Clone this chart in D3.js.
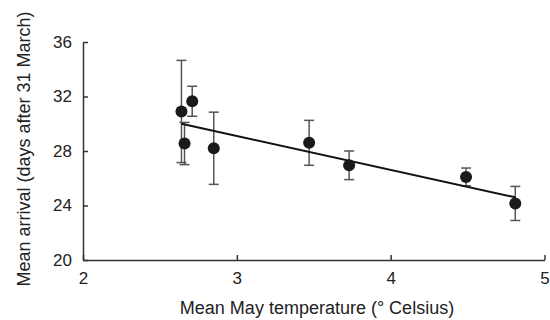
<!DOCTYPE html>
<html>
<head>
<meta charset="utf-8">
<script src="https://cdn.jsdelivr.net/npm/d3@7"></script>
<style>
  body { margin: 0; background: #fff; }
  text { font-family: "Liberation Sans", Arial, sans-serif; fill: #222; }
</style>
</head>
<body>
<div id="chart"></div>
<script>
// data
const temps = [2.64, 2.66, 2.71, 2.85, 3.47, 3.73, 4.49, 4.81];
const arrivals = [30.9, 28.55, 31.65, 28.2, 28.6, 26.95, 26.1, 24.15];
const errors = [3.75, 1.55, 1.1, 2.65, 1.65, 1.05, 0.65, 1.25];
const fitX = [2.64, 4.81];
const fitY = [30.0, 24.6];
const xTicks = [2, 3, 4, 5];
const yTicks = [20, 24, 28, 32, 36];

const width = 550, height = 320;
const margin = {top: 42, right: 5, bottom: 60, left: 83};
const w = width - margin.left - margin.right,
    h = height - margin.top - margin.bottom;

const svg = d3.select('#chart')
    .append('svg')
    .attr('width', width)
    .attr('height', height)
    .append('g')
    .attr('transform', `translate(${margin.left},${margin.top})`);

const x = d3.scaleLinear().domain([2, 5]).range([0, w - 0.5]);
const y = d3.scaleLinear().domain([20, 36]).range([h, 0]);

// axes, ticks point inward
const xAxis = svg.append('g')
    .attr('transform', `translate(0,${h})`)
    .call(d3.axisBottom(x).tickValues(xTicks).tickFormat(d3.format('d'))
        .tickSizeInner(-5).tickSizeOuter(0).tickPadding(12));
const yAxis = svg.append('g')
    .call(d3.axisLeft(y).tickValues(yTicks).tickFormat(d3.format('d'))
        .tickSizeInner(-5).tickSizeOuter(0).tickPadding(11));

[xAxis, yAxis].forEach(a => {
    a.selectAll('path, line').attr('stroke', '#333').attr('stroke-width', 1.5);
    a.selectAll('text').style('font-size', '17px').attr('fill', '#222');
});

const pts = temps.map((t, i) => ({t: t, a: arrivals[i], e: errors[i]}));

// error bars
const eb = svg.selectAll('.err')
    .data(pts)
    .enter().append('g')
    .attr('class', 'err')
    .attr('stroke', '#555')
    .attr('stroke-width', 1.5);
eb.append('line')
    .attr('x1', d => x(d.t)).attr('x2', d => x(d.t))
    .attr('y1', d => y(d.a - d.e)).attr('y2', d => y(d.a + d.e));
eb.append('line')
    .attr('x1', d => x(d.t) - 5).attr('x2', d => x(d.t) + 5)
    .attr('y1', d => y(d.a + d.e)).attr('y2', d => y(d.a + d.e));
eb.append('line')
    .attr('x1', d => x(d.t) - 5).attr('x2', d => x(d.t) + 5)
    .attr('y1', d => y(d.a - d.e)).attr('y2', d => y(d.a - d.e));

// regression line
const line = d3.line().x(d => x(d[0])).y(d => y(d[1]));
svg.append('path')
    .attr('d', line(fitX.map((v, i) => [v, fitY[i]])))
    .attr('stroke', '#111')
    .attr('stroke-width', 2)
    .attr('fill', 'none');

// points
svg.selectAll('.dot')
    .data(pts)
    .enter().append('circle')
    .attr('class', 'dot')
    .attr('r', 6)
    .attr('cx', d => x(d.t))
    .attr('cy', d => y(d.a))
    .attr('fill', '#1a1a1a');

// axis titles
svg.append('text')
    .attr('x', w / 2 + 3)
    .attr('y', h + 54)
    .style('text-anchor', 'middle')
    .style('font-size', '18px')
    .text('Mean May temperature (\u00b0 Celsius)');

svg.append('text')
    .attr('transform', 'rotate(-90)')
    .attr('x', -(h / 2) + 2)
    .attr('y', -margin.left + 30)
    .style('text-anchor', 'middle')
    .style('font-size', '18px')
    .text('Mean arrival (days after 31 March)');
</script>
</body>
</html>
